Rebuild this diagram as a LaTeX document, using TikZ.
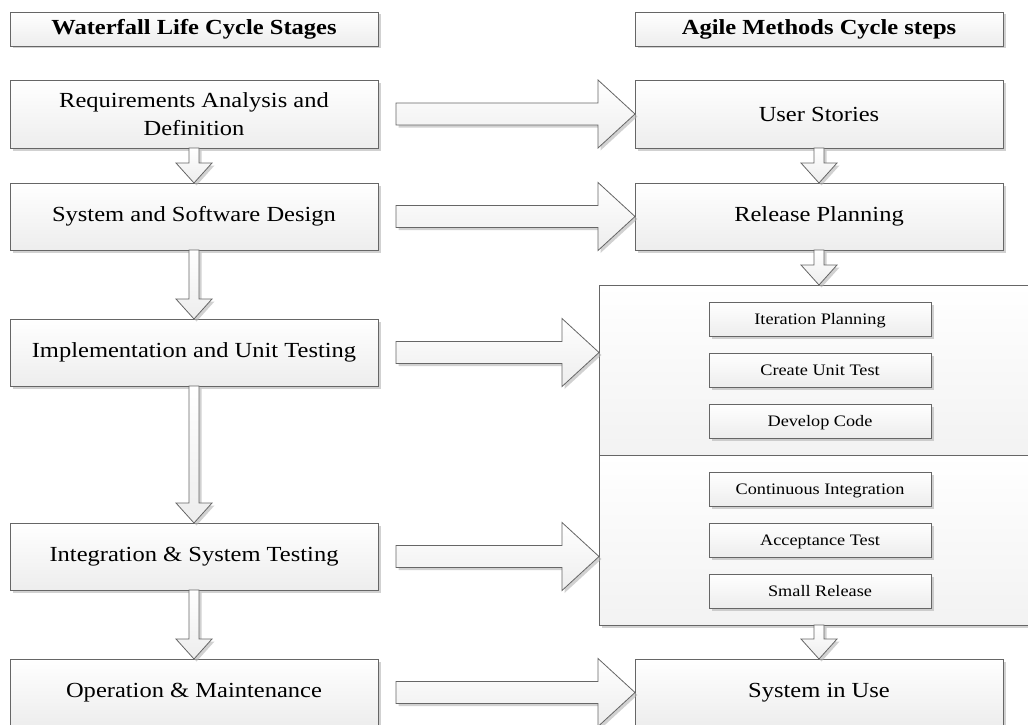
\documentclass[tikz,border=0pt]{standalone}
\usepackage{fontspec}
\setmainfont{Liberation Serif}[FakeStretch=1.14]
\usetikzlibrary{shadows,calc}
\tikzset{
  shd/.style={drop shadow={shadow xshift=2.5pt,shadow yshift=-2.5pt,fill=black!30,opacity=0.6}},
  box/.style={draw=black!60, line width=0.8pt, top color=white, bottom color=black!7, shd,
    inner sep=0pt, outer sep=0pt, anchor=north west, align=center},
  mainbox/.style={box, minimum width=368pt, font=\fontsize{21.5}{28}\selectfont},
  hdrbox/.style={box, minimum width=368pt, minimum height=34pt, text height=16pt, text depth=4pt,
    font=\fontsize{21.5}{26}\selectfont\bfseries},
  innerbox/.style={box, minimum width=222pt, minimum height=34pt, text height=14pt, text depth=3.5pt,
    font=\fontsize{16}{20}\selectfont},
  contbox/.style={box, minimum width=470pt, minimum height=170pt, top color=white, bottom color=black!5},
  blk/.style={draw=black!60, line width=0.8pt, top color=white, bottom color=black!7, shd, line join=miter}
}
\newcommand\blkH[2]{\path[blk] let \p1=(#1), \p2=(#2) in
  (\x1,\y2+11pt) -- (\x2-37pt,\y2+11pt) -- (\x2-37pt,\y2+34pt) -- (\x2,\y2) --
  (\x2-37pt,\y2-34pt) -- (\x2-37pt,\y2-11pt) -- (\x1,\y2-11pt) -- cycle;}
\newcommand\blkV[2]{\path[blk] let \p1=(#1), \p2=(#2) in
  (\x2-5pt,\y1) -- (\x2-5pt,\y2+20pt) -- (\x2-18pt,\y2+20pt) -- (\x2,\y2) --
  (\x2+18pt,\y2+20pt) -- (\x2+5pt,\y2+20pt) -- (\x2+5pt,\y1) -- cycle;}
\begin{document}
\begin{tikzpicture}[x=1pt,y=-1pt]
\useasboundingbox (0,0) rectangle (1028,725);
\clip (0,0) rectangle (1028,725);
% headers
\node[hdrbox] (hdrL) at (10,12) {Waterfall Life Cycle Stages};
\node[hdrbox] (hdrR) at (635,12) {Agile Methods Cycle steps};
% waterfall column
\node[mainbox, minimum height=68pt] (req) at (10,80) {Requirements Analysis and\\Definition};
\node[mainbox, minimum height=67pt] (design) at (10,183) {System and Software Design};
\node[mainbox, minimum height=67pt] (impl) at (10,319) {Implementation and Unit Testing};
\node[mainbox, minimum height=67pt] (integ) at (10,523) {Integration \& System Testing};
\node[mainbox, minimum height=67pt] (oper) at (10,659) {Operation \& Maintenance};
% agile column
\node[mainbox, minimum height=68pt] (us) at (635,80) {User Stories};
\node[mainbox, minimum height=67pt] (rp) at (635,183) {Release Planning};
\node[contbox] (cont1) at (599,285) {};
\node[contbox] (cont2) at (599,455) {};
\node[innerbox] (ip) at (709,302) {Iteration Planning};
\node[innerbox] (cut) at (709,353) {Create Unit Test};
\node[innerbox] (dc) at (709,404) {Develop Code};
\node[innerbox] (ci) at (709,472) {Continuous Integration};
\node[innerbox] (at) at (709,523) {Acceptance Test};
\node[innerbox] (sr) at (709,574) {Small Release};
\node[mainbox, minimum height=67pt] (siu) at (635,659) {System in Use};
% vertical arrows
\blkV{req.south}{design.north}
\blkV{design.south}{impl.north}
\blkV{impl.south}{integ.north}
\blkV{integ.south}{oper.north}
\blkV{us.south}{rp.north}
\blkV{rp.south}{rp.south |- cont1.north}
\blkV{siu.north |- cont2.south}{siu.north}
% horizontal arrows
\blkH{$(req.east)+(18,0)$}{us.west}
\blkH{$(design.east)+(18,0)$}{rp.west}
\blkH{$(impl.east)+(18,0)$}{impl.east -| cont1.west}
\blkH{$(integ.east)+(18,0)$}{integ.east -| cont2.west}
\blkH{$(oper.east)+(18,0)$}{siu.west}
\end{tikzpicture}
\end{document}
